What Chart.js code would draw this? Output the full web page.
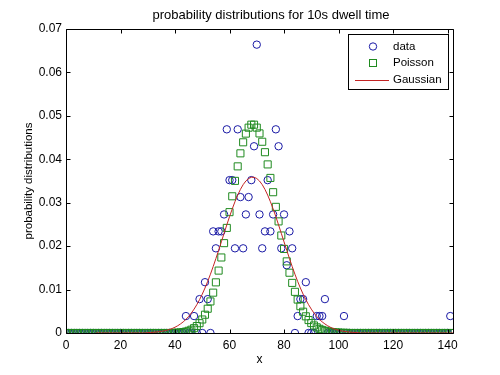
<!DOCTYPE html>
<html>
<head>
<meta charset="utf-8">
<script src="https://cdn.jsdelivr.net/npm/chart.js@4"></script>
<style>
  body { margin: 0; background: #fff; }
  canvas { display: block; }
</style>
</head>
<body>
<canvas id="distChart" width="500" height="375"></canvas>
<script>
const titleText = 'probability distributions for 10s dwell time'
const xTitle = 'x'
const yTitle = 'probability distributions'
const seriesNames = ['data', 'Poisson', 'Gaussian']

const xTicks = [0, 20, 40, 60, 80, 100, 120, 140]
const yTicks = [0, 0.01, 0.02, 0.03, 0.04, 0.05, 0.06, 0.07]
const yTickLabels = ['0', '0.01', '0.02', '0.03', '0.04', '0.05', '0.06', '0.07']

// one value per x = 0..142
const dataValues = [
  0, 0, 0, 0, 0, 0, 0, 0, 0, 0,
  0, 0, 0, 0, 0, 0, 0, 0, 0, 0,
  0, 0, 0, 0, 0, 0, 0, 0, 0, 0,
  0, 0, 0, 0, 0, 0, 0, 0, 0, 0,
  0, 0, 0, 0, 0.0039, 0, 0, 0.0039, 0, 0.0078,
  0, 0.0117, 0.0078, 0, 0.0234, 0.0195, 0.0234, 0.0234, 0.0273, 0.0469,
  0.0352, 0.0352, 0.0195, 0.0469, 0.0313, 0.0195, 0.0273, 0.0313, 0.0352, 0.0430,
  0.0664, 0.0273, 0.0195, 0.0234, 0.0352, 0.0234, 0.0273, 0.0469, 0.0430, 0.0195,
  0.0273, 0.0156, 0.0234, 0.0195, 0, 0.0039, 0.0078, 0.0078, 0.0117, 0,
  0, 0, 0.0039, 0.0039, 0.0039, 0.0078, 0, 0, 0, 0,
  0, 0, 0.0039, 0, 0, 0, 0, 0, 0, 0,
  0, 0, 0, 0, 0, 0, 0, 0, 0, 0,
  0, 0, 0, 0, 0, 0, 0, 0, 0, 0,
  0, 0, 0, 0, 0, 0, 0, 0, 0, 0,
  0, 0.0039, 0
]

const poissonValues = [
  0, 0, 0, 0, 0, 0, 0, 0, 0, 0,
  0, 0, 0, 0, 0, 0, 0, 0, 0, 0,
  0, 0, 0, 0, 0, 0, 0, 0, 0, 0,
  0, 0, 0, 0, 0, 0, 0, 0, 0, 0.00003,
  0.00005, 0.00008, 0.00013, 0.00021, 0.00033, 0.00051, 0.00076, 0.00111, 0.0016, 0.00226,
  0.00311, 0.00421, 0.00559, 0.00727, 0.00929, 0.01166, 0.01437, 0.01739, 0.02069, 0.0242,
  0.02783, 0.03148, 0.03503, 0.03837, 0.04137, 0.04391, 0.04591, 0.04728, 0.04797, 0.04797,
  0.04729, 0.04596, 0.04404, 0.04163, 0.03882, 0.03571, 0.03242, 0.02905, 0.0257, 0.02245,
  0.01936, 0.01649, 0.01388, 0.01154, 0.00948, 0.0077, 0.00617, 0.0049, 0.00384, 0.00298,
  0.00228, 0.00173, 0.0013, 0.00096, 0.00071, 0.00051, 0.00037, 0.00026, 0.00018, 0.00013,
  0.00009, 0.00006, 0.00004, 0.00003, 0, 0, 0, 0, 0, 0,
  0, 0, 0, 0, 0, 0, 0, 0, 0, 0,
  0, 0, 0, 0, 0, 0, 0, 0, 0, 0,
  0, 0, 0, 0, 0, 0, 0, 0, 0, 0,
  0, 0, 0
]

const gaussianValues = [
  null, null, null, null, null, null, null, null, null, null,
  null, 0, 0, 0, 0, 0, 0, 0, 0, 0,
  0, 0, 0, 0, 0, 0, 0, 0, 0, 0,
  0.00009, 0.00012, 0.00016, 0.00022, 0.00029, 0.00038, 0.00049, 0.00064, 0.00082, 0.00105,
  0.00133, 0.00167, 0.00208, 0.00256, 0.00314, 0.00382, 0.0046, 0.0055, 0.00652, 0.00767,
  0.00895, 0.01036, 0.01189, 0.01354, 0.01529, 0.01714, 0.01904, 0.02099, 0.02295, 0.02489,
  0.02678, 0.02857, 0.03024, 0.03175, 0.03307, 0.03416, 0.035, 0.03557, 0.03586, 0.03586,
  0.03557, 0.035, 0.03416, 0.03307, 0.03175, 0.03024, 0.02857, 0.02678, 0.02489, 0.02295,
  0.02099, 0.01904, 0.01714, 0.01529, 0.01354, 0.01189, 0.01036, 0.00895, 0.00767, 0.00652,
  0.0055, 0.0046, 0.00382, 0.00314, 0.00256, 0.00208, 0.00167, 0.00133, 0.00105, 0.00082,
  0.00064, 0.00049, 0.00038, 0.00029, 0.00022, 0.00016, 0.00012, 0.00009, 0, 0,
  0, 0, 0, 0, 0, 0, 0, 0, 0, 0,
  0, 0, 0, 0, 0, 0, 0, 0, 0, 0,
  0, 0, 0, 0, 0, 0, 0, 0, 0, 0,
  0, 0, 0
]

const blue = '#1a1aa6'
const green = '#1f8a1f'
const red = '#c42424'
const font = "'Liberation Sans', Arial, sans-serif"

const toPoints = (values) => values.map((v, i) => ({ x: i, y: v }))

const matlabFrame = {
  id: 'matlabFrame',
  beforeDraw(chart) {
    const ctx = chart.ctx
    ctx.save()
    ctx.fillStyle = '#fff'
    ctx.fillRect(0, 0, chart.width, chart.height)
    ctx.restore()
  },
  afterDraw(chart) {
    const { ctx, chartArea: a, scales } = chart
    const L = Math.round(a.left) + 0.5
    const R = Math.round(a.right) + 0.5
    const T = Math.round(a.top) + 0.5
    const B = Math.round(a.bottom) + 0.5
    ctx.save()
    ctx.strokeStyle = '#000'
    ctx.lineWidth = 1
    ctx.beginPath()
    ctx.rect(L, T, R - L, B - T)
    xTicks.forEach(v => {
      const px = Math.round(scales.x.getPixelForValue(v)) + 0.5
      ctx.moveTo(px, B); ctx.lineTo(px, B - 4)
      ctx.moveTo(px, T); ctx.lineTo(px, T + 4)
    })
    yTicks.forEach(v => {
      const py = Math.round(scales.y.getPixelForValue(v)) + 0.5
      ctx.moveTo(L, py); ctx.lineTo(L + 4, py)
      ctx.moveTo(R, py); ctx.lineTo(R - 4, py)
    })
    ctx.stroke()

    // title and axis labels
    ctx.fillStyle = '#000'
    ctx.textAlign = 'center'
    ctx.textBaseline = 'middle'
    ctx.font = '13px ' + font
    ctx.fillText(titleText, 271, 15)
    ctx.font = '12px ' + font
    ctx.fillText(xTitle, (a.left + a.right) / 2, 360)
    ctx.save()
    ctx.translate(29, (a.top + a.bottom) / 2)
    ctx.rotate(-Math.PI / 2)
    ctx.font = '11.5px ' + font
    ctx.fillText(yTitle, 0, 0)
    ctx.restore()

    // legend
    const bx = 348.5, by = 34.5, bw = 100, bh = 55
    ctx.fillStyle = '#fff'
    ctx.fillRect(bx, by, bw, bh)
    ctx.strokeRect(bx, by, bw, bh)
    const rows = [46.5, 63, 79.5]
    ctx.font = '11.5px ' + font
    ctx.textAlign = 'left'
    ctx.fillStyle = '#000'
    seriesNames.forEach((name, i) => ctx.fillText(name, 393, rows[i]))
    ctx.lineWidth = 1
    ctx.strokeStyle = blue
    ctx.beginPath()
    ctx.arc(373, rows[0], 3.7, 0, Math.PI * 2)
    ctx.stroke()
    ctx.strokeStyle = green
    ctx.strokeRect(369.5, rows[1] - 3.5, 7, 7)
    ctx.strokeStyle = red
    ctx.beginPath()
    ctx.moveTo(355, Math.round(rows[2]) + 0.5)
    ctx.lineTo(389, Math.round(rows[2]) + 0.5)
    ctx.stroke()
    ctx.restore()
  }
}

const ctx = document.getElementById('distChart').getContext('2d')

new Chart(ctx, {
  type: 'scatter',
  data: {
    datasets: [
      {
        label: seriesNames[0],
        data: toPoints(dataValues),
        pointStyle: 'circle',
        pointRadius: 3.7,
        pointBorderWidth: 1,
        borderColor: blue,
        backgroundColor: 'rgba(0,0,0,0)',
        order: 3,
      },
      {
        label: seriesNames[1],
        data: toPoints(poissonValues),
        pointStyle: 'rect',
        pointRadius: 5,
        pointBorderWidth: 1,
        borderColor: green,
        backgroundColor: 'rgba(0,0,0,0)',
        order: 2,
      },
      {
        label: seriesNames[2],
        data: toPoints(gaussianValues),
        showLine: true,
        pointRadius: 0,
        borderWidth: 1,
        borderColor: red,
        backgroundColor: red,
        spanGaps: false,
        order: 1,
      },
    ],
  },
  options: {
    responsive: false,
    animation: false,
    devicePixelRatio: 1,
    layout: { padding: { top: 29, right: 47, left: 0, bottom: 0 } },
    plugins: {
      legend: { display: false },
      title: { display: false },
      tooltip: { enabled: false },
    },
    scales: {
      x: {
        type: 'linear',
        min: 0,
        max: 142,
        grid: { display: false, drawTicks: false },
        border: { display: false },
        afterBuildTicks: (scale) => { scale.ticks = xTicks.map(v => ({ value: v })) },
        afterFit: (scale) => { scale.height = 42 },
        ticks: {
          color: '#000',
          padding: 5,
          maxRotation: 0,
          autoSkip: false,
          font: { family: font, size: 12 },
        },
      },
      y: {
        type: 'linear',
        min: 0,
        max: 0.07,
        grid: { display: false, drawTicks: false },
        border: { display: false },
        afterBuildTicks: (scale) => { scale.ticks = yTicks.map(v => ({ value: v })) },
        afterFit: (scale) => { scale.width = 66 },
        ticks: {
          color: '#000',
          padding: 4,
          autoSkip: false,
          font: { family: font, size: 12 },
          callback: (value) => {
            const i = yTicks.findIndex(t => Math.abs(t - value) < 1e-9)
            return i >= 0 ? yTickLabels[i] : ''
          },
        },
      },
    },
  },
  plugins: [matlabFrame],
})
</script>
</body>
</html>
